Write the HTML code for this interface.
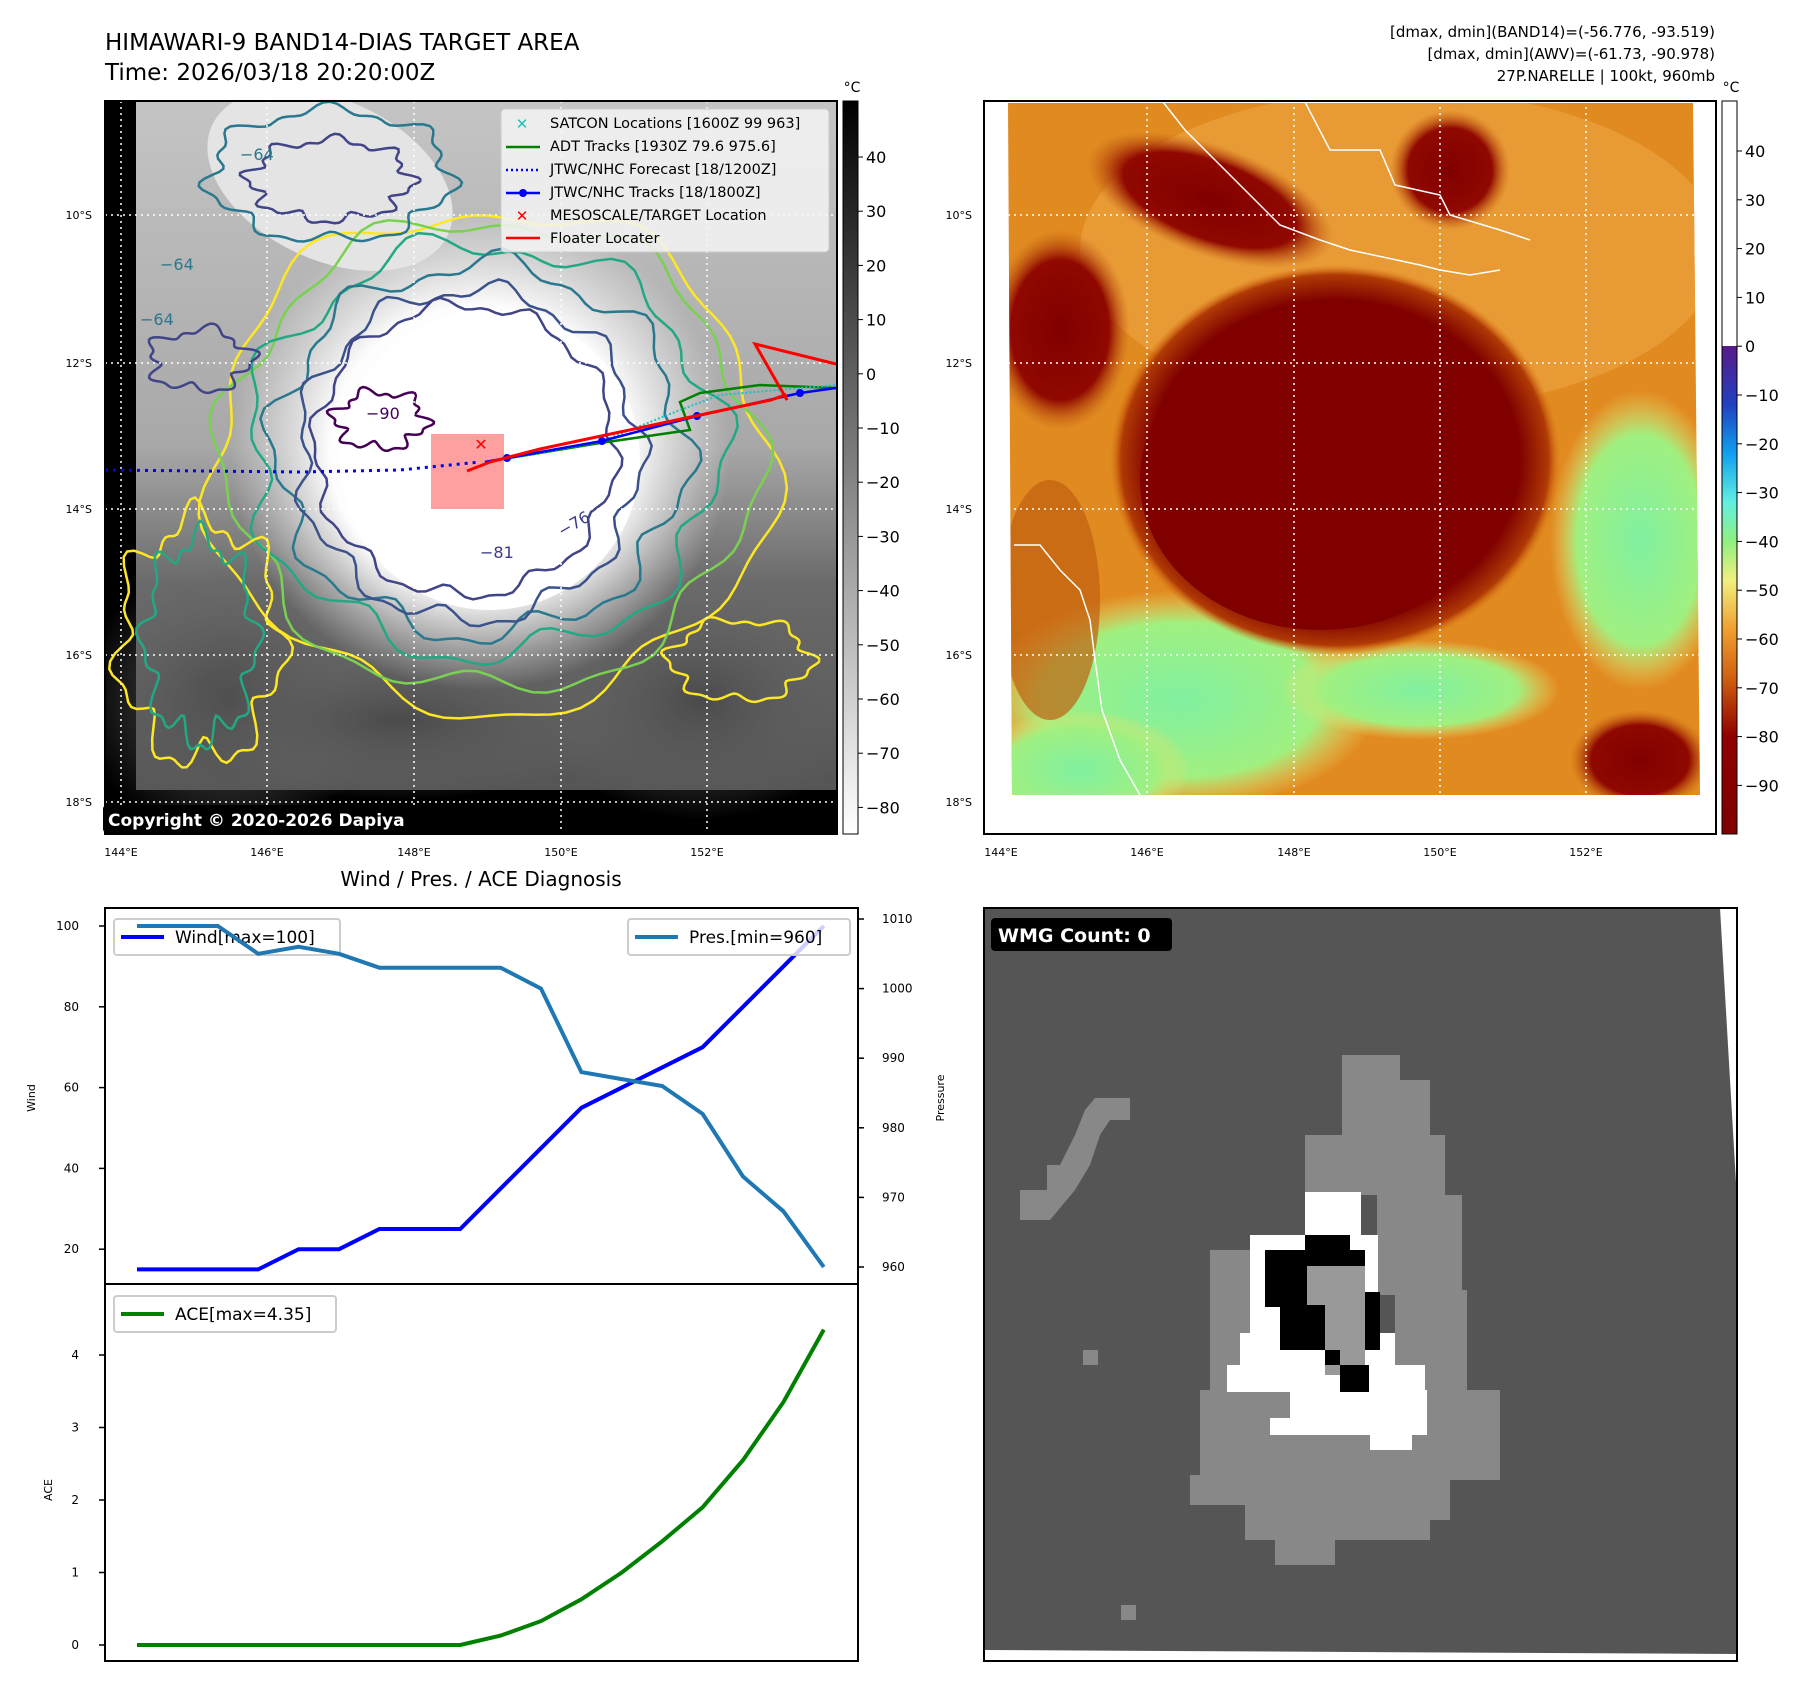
<!DOCTYPE html>
<html><head><meta charset="utf-8">
<style>
html,body{margin:0;padding:0;background:#fff;}
body{width:1797px;height:1690px;position:relative;overflow:hidden;font-family:"DejaVu Sans","Liberation Sans",sans-serif;}
svg text{font-family:"DejaVu Sans","Liberation Sans",sans-serif;}
</style></head>
<body>
<svg id="fig" width="1797" height="1690" viewBox="0 0 1797 1690" xmlns="http://www.w3.org/2000/svg">
<defs>
  <radialGradient id="core" cx="0.5" cy="0.5" r="0.5">
    <stop offset="0" stop-color="#fff"/><stop offset="0.6" stop-color="#fdfdfd"/><stop offset="1" stop-color="#ececec" stop-opacity="0"/>
  </radialGradient>
  <linearGradient id="graybg" x1="0" y1="0" x2="0" y2="1">
    <stop offset="0" stop-color="#c4c4c4"/><stop offset="0.5" stop-color="#a8a8a8"/><stop offset="0.7" stop-color="#6a6a6a"/><stop offset="1" stop-color="#555"/>
  </linearGradient>
  <linearGradient id="cbgray" x1="0" y1="0" x2="0" y2="1">
    <stop offset="0" stop-color="#000"/><stop offset="1" stop-color="#fff"/>
  </linearGradient>
  <linearGradient id="cbcol" x1="0" y1="0" x2="0" y2="1">
    <stop offset="0" stop-color="#5a1a8a"/><stop offset="0.12" stop-color="#2040c0"/><stop offset="0.22" stop-color="#10a0f0"/>
    <stop offset="0.32" stop-color="#60f0e0"/><stop offset="0.4" stop-color="#90f080"/><stop offset="0.48" stop-color="#f0f080"/>
    <stop offset="0.58" stop-color="#f0a030"/><stop offset="0.68" stop-color="#d06010"/><stop offset="0.8" stop-color="#900000"/><stop offset="1" stop-color="#800000"/>
  </linearGradient>
  <radialGradient id="redblob" cx="0.5" cy="0.5" r="0.5">
    <stop offset="0" stop-color="#800000"/><stop offset="0.82" stop-color="#800000"/><stop offset="0.95" stop-color="#b03a05"/><stop offset="1" stop-color="#d87010" stop-opacity="0"/>
  </radialGradient>
  <radialGradient id="greenblob" cx="0.5" cy="0.5" r="0.5">
    <stop offset="0" stop-color="#80f0a0"/><stop offset="0.7" stop-color="#a0f080"/><stop offset="1" stop-color="#f0e070" stop-opacity="0"/>
  </radialGradient>
  <radialGradient id="darkpatch" cx="0.5" cy="0.5" r="0.5">
    <stop offset="0" stop-color="#800000"/><stop offset="0.7" stop-color="#900800"/><stop offset="1" stop-color="#c05a10" stop-opacity="0"/>
  </radialGradient>
  <radialGradient id="dkgray" cx="0.5" cy="0.5" r="0.5">
    <stop offset="0" stop-color="#4a4a4a"/><stop offset="1" stop-color="#6a6a6a" stop-opacity="0"/>
  </radialGradient>
  <clipPath id="clipL"><rect x="105" y="101" width="732" height="733"/></clipPath>
  <clipPath id="clipR"><polygon points="1008,103 1693,103 1700,795 1012,795"/></clipPath>
</defs>

<text x="105" y="50" font-size="23">HIMAWARI-9 BAND14-DIAS TARGET AREA</text>
<text x="105" y="80" font-size="23">Time: 2026/03/18 20:20:00Z</text>
<g font-size="15" text-anchor="end">
<text x="1715" y="37">[dmax, dmin](BAND14)=(-56.776, -93.519)</text>
<text x="1715" y="59">[dmax, dmin](AWV)=(-61.73, -90.978)</text>
<text x="1715" y="81">27P.NARELLE | 100kt, 960mb</text>
</g>

<!-- LEFT MAP -->
<g>
  <rect x="105" y="101" width="732" height="733" fill="#000"/>
  <g clip-path="url(#clipL)">
    <polygon points="136,102 836,102 836,790 136,790" fill="url(#graybg)"/>
    <ellipse cx="230" cy="700" rx="150" ry="140" fill="url(#dkgray)"/>
    <ellipse cx="700" cy="700" rx="160" ry="120" fill="url(#dkgray)"/>
    <ellipse cx="400" cy="720" rx="220" ry="80" fill="url(#dkgray)"/>
    <ellipse cx="480" cy="450" rx="250" ry="240" fill="url(#core)"/>
    <ellipse cx="490" cy="460" rx="150" ry="150" fill="#fff"/>
    <ellipse cx="330" cy="180" rx="130" ry="80" fill="#e4e4e4" transform="rotate(25 330 180)"/>
    <g id="contours" fill="none" stroke-width="2.5"></g>
    <g stroke="#fff" stroke-width="1.5" stroke-dasharray="2,4">
      <line x1="121" y1="101" x2="121" y2="834"/><line x1="267" y1="101" x2="267" y2="834"/><line x1="414" y1="101" x2="414" y2="834"/><line x1="561" y1="101" x2="561" y2="834"/><line x1="707" y1="101" x2="707" y2="834"/>
      <line x1="105" y1="215" x2="837" y2="215"/><line x1="105" y1="363" x2="837" y2="363"/><line x1="105" y1="509" x2="837" y2="509"/><line x1="105" y1="655" x2="837" y2="655"/><line x1="105" y1="802" x2="837" y2="802"/>
    </g>
    <rect x="431" y="434" width="73" height="75" fill="#ff6060" fill-opacity="0.6"/>
    <polyline points="105,470 300,472 400,470 480,462" fill="none" stroke="#0000ff" stroke-width="3" stroke-dasharray="3,5"/>
    <polyline points="485,462 600,443 690,430 680,402 700,393 760,385 836,388" fill="none" stroke="#008000" stroke-width="2.5"/>
    <polyline points="500,460 600,442 680,410 720,395 836,385" fill="none" stroke="#20c0c0" stroke-width="2" stroke-dasharray="2,2"/>
    <polyline points="485,462 507,458 602,441 697,416 800,393 836,388" fill="none" stroke="#0000ff" stroke-width="2.5"/>
    <g fill="#0000ff"><circle cx="507" cy="458" r="4"/><circle cx="602" cy="441" r="4"/><circle cx="697" cy="416" r="4"/><circle cx="800" cy="393" r="4"/></g>
    <polyline points="467,471 490,462 540,449 620,432 700,415 771,400 785,395 787,400 755,344 836,364" fill="none" stroke="#ff0000" stroke-width="3"/>
    <text x="481" y="450" font-size="16" fill="#ff0000" font-weight="bold" text-anchor="middle">✕</text>
    <g font-size="16" fill="#3a3a8a">
      <text x="366" y="419" fill="#440154">−90</text><text x="480" y="558">−81</text><text x="562" y="537" transform="rotate(-30 562 537)">−76</text>
      <text x="240" y="160" fill="#2a788e">−64</text><text x="140" y="325" fill="#2a788e">−64</text><text x="160" y="270" fill="#2a788e">−64</text>
    </g>
  </g>
  <rect x="105" y="101" width="732" height="733" fill="none" stroke="#000" stroke-width="2"/>
  <rect x="103" y="805" width="330" height="28" rx="4" fill="#000"/>
  <text x="108" y="826" font-size="17" font-weight="bold" fill="#fff">Copyright © 2020-2026 Dapiya</text>
  <g>
    <rect x="501" y="109" width="328" height="143" rx="4" fill="#f4f4f4" fill-opacity="0.85" stroke="#ccc"/>
    <text x="522" y="129" font-size="15" fill="#20c0c0" text-anchor="middle">✕</text>
    <line x1="506" y1="147" x2="540" y2="147" stroke="#008000" stroke-width="2.5"/>
    <line x1="506" y1="170" x2="540" y2="170" stroke="#0000ff" stroke-width="2.5" stroke-dasharray="2,3"/>
    <line x1="506" y1="193" x2="540" y2="193" stroke="#0000ff" stroke-width="2.5"/><circle cx="523" cy="193" r="4" fill="#0000ff"/>
    <text x="522" y="221" font-size="15" fill="#ff0000" text-anchor="middle" font-weight="bold">✕</text>
    <line x1="506" y1="238" x2="540" y2="238" stroke="#ff0000" stroke-width="2.5"/>
    <g font-size="14.5" fill="#000">
      <text x="550" y="128">SATCON Locations [1600Z 99 963]</text>
      <text x="550" y="151">ADT Tracks [1930Z 79.6 975.6]</text>
      <text x="550" y="174">JTWC/NHC Forecast [18/1200Z]</text>
      <text x="550" y="197">JTWC/NHC Tracks [18/1800Z]</text>
      <text x="550" y="220">MESOSCALE/TARGET Location</text>
      <text x="550" y="243">Floater Locater</text>
    </g>
  </g>
  <g font-size="11" text-anchor="end">
    <text x="92" y="219">10°S</text><text x="92" y="367">12°S</text><text x="92" y="513">14°S</text><text x="92" y="659">16°S</text><text x="92" y="806">18°S</text>
  </g>
  <g font-size="11" text-anchor="middle">
    <text x="121" y="856">144°E</text><text x="267" y="856">146°E</text><text x="414" y="856">148°E</text><text x="561" y="856">150°E</text><text x="707" y="856">152°E</text>
  </g>
</g>
<g>
  <rect x="843" y="101" width="15" height="733" fill="url(#cbgray)" stroke="#000"/>
  <text x="852" y="92" font-size="14" text-anchor="middle">°C</text>
  <g id="cb1" font-size="16"></g>
</g>

<!-- RIGHT MAP -->
<g>
  <rect x="984" y="101" width="732" height="733" fill="#fff"/>
  <g clip-path="url(#clipR)">
    <rect x="1000" y="100" width="710" height="700" fill="#e08a20"/>
    <ellipse cx="1400" cy="250" rx="320" ry="160" fill="#e89a35"/>
    <ellipse cx="1180" cy="700" rx="200" ry="110" fill="url(#greenblob)"/>
    <ellipse cx="1080" cy="770" rx="110" ry="60" fill="url(#greenblob)"/>
    <ellipse cx="1420" cy="690" rx="140" ry="50" fill="url(#greenblob)"/>
    <ellipse cx="1640" cy="540" rx="90" ry="150" fill="url(#greenblob)"/>
    <ellipse cx="1050" cy="600" rx="50" ry="120" fill="#c06010" fill-opacity="0.7"/>
    <ellipse cx="1335" cy="460" rx="225" ry="195" fill="url(#redblob)"/>
    <ellipse cx="1320" cy="480" rx="180" ry="150" fill="#800000"/>
    <ellipse cx="1210" cy="200" rx="130" ry="55" fill="url(#darkpatch)" transform="rotate(20 1210 200)"/>
    <ellipse cx="1450" cy="170" rx="60" ry="60" fill="url(#darkpatch)"/>
    <ellipse cx="1060" cy="330" rx="70" ry="100" fill="url(#darkpatch)"/>
    <ellipse cx="1640" cy="760" rx="70" ry="50" fill="url(#darkpatch)"/>
    <g fill="none" stroke="#fff" stroke-width="1.5">
      <polyline points="1163,102 1185,130 1210,155 1240,185 1280,225 1320,240 1350,250 1420,265 1440,270 1470,275 1500,270"/>
      <polyline points="1305,102 1330,150 1380,150 1395,185 1440,195 1450,215 1500,230 1530,240"/>
      <polyline points="1014,545 1040,545 1060,570 1080,590 1090,620 1095,660 1102,710 1120,760 1140,795"/>
    </g>
    <g stroke="#fff" stroke-width="1.5" stroke-dasharray="2,4">
      <line x1="1001" y1="101" x2="1001" y2="834"/><line x1="1147" y1="101" x2="1147" y2="834"/><line x1="1294" y1="101" x2="1294" y2="834"/><line x1="1440" y1="101" x2="1440" y2="834"/><line x1="1586" y1="101" x2="1586" y2="834"/>
      <line x1="984" y1="215" x2="1716" y2="215"/><line x1="984" y1="363" x2="1716" y2="363"/><line x1="984" y1="509" x2="1716" y2="509"/><line x1="984" y1="655" x2="1716" y2="655"/>
    </g>
  </g>
  <rect x="984" y="101" width="732" height="733" fill="none" stroke="#000" stroke-width="2"/>
  <g font-size="11" text-anchor="end">
    <text x="972" y="219">10°S</text><text x="972" y="367">12°S</text><text x="972" y="513">14°S</text><text x="972" y="659">16°S</text><text x="972" y="806">18°S</text>
  </g>
  <g font-size="11" text-anchor="middle">
    <text x="1001" y="856">144°E</text><text x="1147" y="856">146°E</text><text x="1294" y="856">148°E</text><text x="1440" y="856">150°E</text><text x="1586" y="856">152°E</text>
  </g>
</g>
<g>
  <rect x="1722" y="101" width="15" height="245" fill="#fff"/>
  <rect x="1722" y="346" width="15" height="488" fill="url(#cbcol)"/>
  <rect x="1722" y="101" width="15" height="733" fill="none" stroke="#000"/>
  <text x="1731" y="92" font-size="14" text-anchor="middle">°C</text>
  <g id="cb2" font-size="16"></g>
</g>

<text x="481" y="886" font-size="20" text-anchor="middle">Wind / Pres. / ACE Diagnosis</text>
<g id="chart"></g>

<!-- BOTTOM RIGHT WMG -->
<g>
  <rect x="984" y="908" width="753" height="753" fill="#555"/>
  <polygon points="1720,908 1737,908 1737,1200" fill="#fff"/>
  <polygon points="984,1650 1737,1654 1737,1661 984,1661" fill="#fff"/>
  <g fill="#888">
    <polygon points="1020,1220 1020,1190 1047,1190 1047,1165 1060,1165 1075,1135 1085,1110 1095,1098 1130,1098 1130,1120 1110,1120 1100,1135 1090,1165 1075,1190 1050,1220"/>
    <rect x="1342" y="1055" width="58" height="80"/>
    <rect x="1375" y="1080" width="55" height="55"/>
    <rect x="1305" y="1135" width="140" height="60"/>
    <rect x="1377" y="1195" width="85" height="100"/>
    <rect x="1395" y="1290" width="72" height="130"/>
    <rect x="1210" y="1250" width="45" height="145"/>
    <rect x="1200" y="1390" width="300" height="90"/>
    <rect x="1245" y="1480" width="185" height="60"/>
    <rect x="1275" y="1535" width="60" height="30"/>
    <rect x="1190" y="1475" width="60" height="30"/>
    <rect x="1420" y="1480" width="30" height="40"/>
    <rect x="1083" y="1350" width="15" height="15"/><rect x="1121" y="1605" width="15" height="15"/>
  </g>
  <g fill="#fff">
    <rect x="1305" y="1192" width="56" height="45"/>
    <rect x="1250" y="1235" width="128" height="100"/>
    <rect x="1240" y="1333" width="155" height="35"/>
    <rect x="1227" y="1365" width="198" height="27"/>
    <rect x="1290" y="1390" width="137" height="30"/>
    <rect x="1270" y="1418" width="157" height="17"/>
    <rect x="1370" y="1433" width="42" height="17"/>
  </g>
  <g fill="#999">
    <rect x="1307" y="1265" width="58" height="85"/>
    <rect x="1325" y="1345" width="40" height="30"/>
  </g>
  <g fill="#000">
    <rect x="1305" y="1235" width="45" height="18"/>
    <rect x="1265" y="1250" width="100" height="16"/>
    <rect x="1265" y="1265" width="42" height="42"/>
    <rect x="1280" y="1305" width="45" height="45"/>
    <rect x="1365" y="1292" width="15" height="58"/>
    <rect x="1325" y="1350" width="15" height="15"/>
    <rect x="1340" y="1365" width="29" height="27"/>
  </g>
  <rect x="984" y="908" width="753" height="753" fill="none" stroke="#000" stroke-width="2"/>
  <rect x="991" y="918" width="181" height="33" rx="4" fill="#000"/>
  <text x="998" y="942" font-size="19" font-weight="bold" fill="#fff">WMG Count: 0</text>
</g>

<script>
const steps = [0,1,2,3,4,5,6,7,8,9,10,11,12,13,14,15,16,17];
const windValues = [15,15,15,15,20,20,25,25,25,35,45,55,60,65,70,80,90,100];
const presValues = [1009,1009,1009,1005,1006,1005,1003,1003,1003,1003,1000,988,987,986,982,973,968,960];
const aceValues = [0,0,0,0,0,0,0,0,0,0.13,0.33,0.63,1.0,1.43,1.9,2.55,3.35,4.35];
const windTicks = [20,40,60,80,100];
const presTicks = [960,970,980,990,1000,1010];
const aceTicks = [0,1,2,3,4];
const cb1Ticks = [40,30,20,10,0,-10,-20,-30,-40,-50,-60,-70,-80];
const cb2Ticks = [40,30,20,10,0,-10,-20,-30,-40,-50,-60,-70,-80,-90];

const NS = 'http://www.w3.org/2000/svg';
function mk(tag, attrs, parent){ const e=document.createElementNS(NS,tag); for(const k in attrs) e.setAttribute(k,attrs[k]); parent.appendChild(e); return e; }

const cb1=document.getElementById('cb1');
const cb1y = v => 157 + (40 - v) * 5.42;
cb1Ticks.forEach(v=>{
  const l=mk('line',{x1:858,x2:863,y1:cb1y(v),y2:cb1y(v),stroke:'#000'},cb1);
  
  
  const t=mk('text',{x:866,y:cb1y(v)+6},cb1); t.textContent=(v<0?'−':'')+Math.abs(v);
  
  
});
const cb2=document.getElementById('cb2');
const cb2y = v => 151 + (40 - v) * 4.88;
cb2Ticks.forEach(v=>{
  const l=mk('line',{x1:1737,x2:1742,y1:cb2y(v),y2:cb2y(v),stroke:'#000'},cb2);
  
  
  const t=mk('text',{x:1745,y:cb2y(v)+6},cb2); t.textContent=(v<0?'−':'')+Math.abs(v);
  
  
});

const cg=document.getElementById('contours');
function ring(cx,cy,rx,ry,col,amp,f,ph){
  let pts=[];
  for(let i=0;i<=120;i++){const a=i/120*Math.PI*2; const r=1+amp*Math.sin(a*f+ph)+amp*0.6*Math.sin(a*(f*2+1)+ph*2);
    pts.push((cx+rx*r*Math.cos(a)).toFixed(1)+','+(cy+ry*r*Math.sin(a)).toFixed(1));}
  const p=mk('polyline',{points:pts.join(' '),stroke:col},cg);
  
  
}
ring(490,460,280,250,'#fde725',0.05,5,0.3);
ring(490,455,265,235,'#7ad151',0.05,6,1.1);
ring(485,450,235,205,'#22a884',0.06,7,2);
ring(480,450,205,185,'#2a788e',0.06,8,0.7);
ring(470,455,170,165,'#3b528b',0.05,9,1.5);
ring(465,450,150,145,'#414487',0.04,10,0.2);
ring(380,420,45,28,'#440154',0.15,6,0.5);
ring(330,175,120,65,'#2a788e',0.08,7,0.1);
ring(330,180,80,40,'#414487',0.1,8,1);
ring(200,360,50,30,'#414487',0.15,5,2);
ring(740,660,70,40,'#fde725',0.1,6,1);
ring(200,640,80,120,'#fde725',0.12,7,0.5);
ring(200,640,55,100,'#22a884',0.12,8,1.5);

const ch=document.getElementById('chart');
const X0=105,X1=858,YT=908,YM=1284,YB=1661;
const xs = i => 137 + i * 40.4;
const yW = v => 926 + (100 - v) * 4.04;
const yP = v => 919 + (1010 - v) * 6.96;
const yA = v => 1645 - v * 72.5;
mk('rect',{x:X0,y:YT,width:X1-X0,height:YB-YT,fill:'#fff',stroke:'#000','stroke-width':2},ch);
mk('line',{x1:X0,x2:X1,y1:YM,y2:YM,stroke:'#000','stroke-width':2},ch);
function ticksLeft(arr,fy,prefix){
  arr.forEach(v=>{
    const l=mk('line',{x1:X0-6,x2:X0,y1:fy(v),y2:fy(v),stroke:'#000','stroke-width':1.5},ch);
    
    
    const t=mk('text',{x:X0-26,y:fy(v)+4,'font-size':12,'text-anchor':'end'},ch); t.textContent=v;
    
    
  });
}
ticksLeft(windTicks,yW,'wind');
ticksLeft(aceTicks,yA,'ace');
presTicks.forEach(v=>{
  const l=mk('line',{x1:X1,x2:X1+6,y1:yP(v),y2:yP(v),stroke:'#000','stroke-width':1.5},ch);
  
  
  const t=mk('text',{x:X1+24,y:yP(v)+4,'font-size':12},ch); t.textContent=v;
  
  
});
let t=mk('text',{x:35,y:1098,'font-size':11,'text-anchor':'middle',transform:'rotate(-90 35 1098)'},ch); t.textContent='Wind';
 
t=mk('text',{x:52,y:1490,'font-size':11,'text-anchor':'middle',transform:'rotate(-90 52 1490)'},ch); t.textContent='ACE';
 
t=mk('text',{x:944,y:1098,'font-size':11,'text-anchor':'middle',transform:'rotate(-90 944 1098)'},ch); t.textContent='Pressure';
 

function legend(x,y,w,col,label,name){
  const g=mk('g',{},ch);
  
  
  mk('rect',{x:x,y:y,width:w,height:36,rx:3,fill:'#fff','fill-opacity':0.8,stroke:'#ccc','stroke-width':2},g);
  mk('line',{x1:x+7,x2:x+50,y1:y+18,y2:y+18,stroke:col,'stroke-width':4},g);
  const tt=mk('text',{x:x+61,y:y+24,'font-size':17},g); tt.textContent=label;
}
legend(114,919,226,'#0000ff','Wind[max=100]','wind-legend');
legend(114,1296,222,'#008000','ACE[max=4.35]','ace-legend');

function line(vals,fy,col,name){
  const p=mk('polyline',{points:steps.map(i=>xs(i).toFixed(1)+','+fy(vals[i]).toFixed(1)).join(' '),fill:'none',stroke:col,'stroke-width':4},ch);
  
  
}
line(windValues,yW,'#0000ff','wind-line');
line(presValues,yP,'#1f77b4','pressure-line');
line(aceValues,yA,'#008000','ace-line');
legend(628,919,222,'#1f77b4','Pres.[min=960]','pressure-legend');
</script>
</body></html>
